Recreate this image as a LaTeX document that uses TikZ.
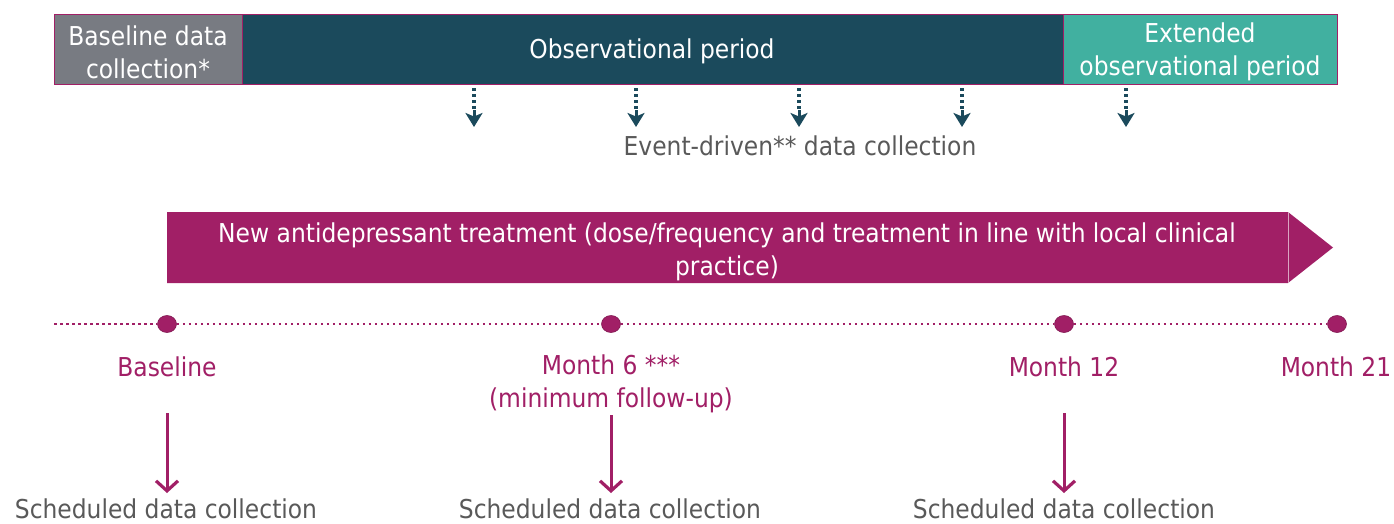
\documentclass[tikz,border=0pt]{standalone}
\usepackage{fontspec}
\setmainfont{DejaVu Sans Condensed}
\usetikzlibrary{arrows.meta,shapes.geometric}
\definecolor{mag}{HTML}{A11F66}
\definecolor{grayb}{HTML}{787B82}
\definecolor{dteal}{HTML}{1B4A5C}
\definecolor{lteal}{HTML}{41B0A0}
\definecolor{txtgray}{HTML}{595959}
\tikzset{
  txt/.style={font=\fontsize{26}{33}\selectfont, align=center, inner sep=0pt},
  topbox/.style={draw=mag, line width=0.8pt, minimum height=70pt, anchor=west, inner sep=0pt},
  boxtxt/.style={txt, text=white},
  evshaft/.style={draw=dteal, line width=3.2pt, dash pattern=on 3pt off 3pt},
  evhead/.style={draw=dteal, line width=3pt, -{Stealth[length=14pt,width=17pt,inset=3.5pt]}},
  scharrow/.style={draw=mag, line width=3pt, -{Straight Barb[length=10pt,width=22pt,line width=3.2pt]}},
  tline/.style={draw=mag, line width=2.6pt, dash pattern=on 2.6pt off 3.4pt},
  dot/.style={ellipse, fill=mag, draw=mag!80!black, line width=0.6pt, minimum width=19pt, minimum height=17pt, inner sep=0pt},
  monthlbl/.style={txt, text=mag},
  graylbl/.style={txt, text=txtgray}
}
\begin{document}
\begin{tikzpicture}[x=1pt,y=-1pt]
\useasboundingbox (0,0) rectangle (1394,523);
% top bar
\node[topbox, fill=grayb, minimum width=188pt] (base) at (54,49) {};
\node[topbox, fill=dteal, minimum width=821pt] (obs) at (242,49) {};
\node[topbox, fill=lteal, minimum width=274pt] (ext) at (1063,49) {};
\node[boxtxt] (baset) at (148,52) {Baseline data\\collection*};
\node[boxtxt] (obst) at (652,51) {Observational period};
\node[boxtxt] (extt) at (1200,52) {Extended\\observational period};
% event-driven arrows
\foreach \i/\x in {1/474,2/636,3/799,4/962,5/1126}{
  \coordinate (es\i) at (\x,88);
  \coordinate (em\i) at (\x,110);
  \coordinate (ee\i) at (\x,127);
  \draw[evshaft] (es\i) -- (em\i);
  \draw[evhead] (em\i) -- (ee\i);
}
\node[graylbl] (ev) at (800,146) {Event-driven** data collection};
% treatment arrow
\fill[mag] (167,212) -- (1288,212) -- (1333,247.5) -- (1288,283) -- (167,283) -- cycle;
\draw[white!60!mag, line width=0.8pt] (1288,212) -- (1288,283);
\node[txt, text=white] (treat) at (727,252) {New antidepressant treatment (dose/frequency and treatment in line with local clinical\\practice)};
% timeline
\coordinate (tl0) at (54,324);
\node[dot] (d0) at (167,324) {};
\node[dot] (d1) at (611,324) {};
\node[dot] (d2) at (1064,324) {};
\node[dot] (d3) at (1337,324) {};
\draw[tline] (tl0) -- (d0.west);
\draw[tline] (d0.east) -- (d1.west);
\draw[tline] (d1.east) -- (d2.west);
\draw[tline] (d2.east) -- (d3.west);
% month labels
\node[monthlbl] (m0) at (167,367) {Baseline};
\node[monthlbl] (m1) at (611,384) {Month 6 ***\\(minimum follow-up)};
\node[monthlbl] (m2) at (1064,367) {Month 12};
\node[monthlbl] (m3) at (1336,367) {Month 21};
% scheduled
\node[graylbl] (s0) at (166,509) {Scheduled data collection};
\node[graylbl] (s1) at (610,509) {Scheduled data collection};
\node[graylbl] (s2) at (1064,509) {Scheduled data collection};
\coordinate (a0) at (167,413);
\coordinate (a1) at (611,415);
\coordinate (a2) at (1064,413);
\coordinate (b0) at (167,493);
\coordinate (b1) at (611,493);
\coordinate (b2) at (1064,493);
\draw[scharrow] (a0) -- (b0);
\draw[scharrow] (a1) -- (b1);
\draw[scharrow] (a2) -- (b2);
\end{tikzpicture}
\end{document}
